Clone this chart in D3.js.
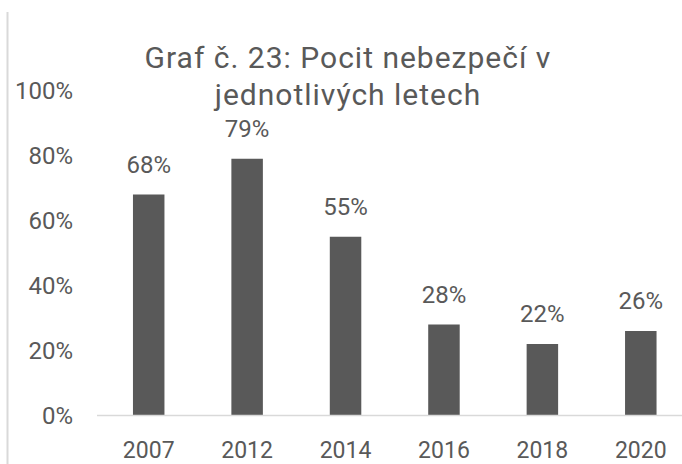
<!DOCTYPE html>
<html>
<head>
<meta charset="utf-8">
<script src="https://cdn.jsdelivr.net/npm/d3@7"></script>
<style>
  html, body { margin: 0; padding: 0; background: #ffffff; }
  svg { display: block; }
  text { font-family: Roboto, "Noto Sans", sans-serif; fill: #595959; }
</style>
</head>
<body>
<svg id="chart" width="682" height="464"></svg>
<script>
const titleLines = ["Graf č. 23: Pocit nebezpečí v", "jednotlivých letech"];
const categories = ["2007", "2012", "2014", "2016", "2018", "2020"];
const values = [0.68, 0.79, 0.55, 0.28, 0.22, 0.26];
const yTicks = [0, 0.2, 0.4, 0.6, 0.8, 1.0];

const svg = d3.select("#chart");
const W = 682, H = 464;

svg.append("rect").attr("width", W).attr("height", H).attr("fill", "#ffffff");

// chart frame left edge
svg.append("line")
  .attr("x1", 7.5).attr("x2", 7.5).attr("y1", 12).attr("y2", H)
  .attr("stroke", "#d9d9d9").attr("stroke-width", 2);

const x = d3.scaleBand().domain(categories).range([99.5, 690]).paddingInner(0.68).paddingOuter(0.34);
const y = d3.scaleLinear().domain([0, 1]).range([415.5, 90.5]);
const pct = d3.format(".0%");

// Title
const title = svg.append("text").attr("text-anchor", "middle")
  .style("font-size", "30px").style("letter-spacing", "1px");
titleLines.forEach((t, i) => {
  title.append("tspan").attr("x", 348).attr("y", i === 0 ? 68 : 105).text(t);
});

// Y axis (labels only)
const yAxis = d3.axisLeft(y).tickValues(yTicks).tickFormat(pct).tickSize(0).tickPadding(0);
const gy = svg.append("g").attr("transform", "translate(73,0)").call(yAxis);
gy.select(".domain").remove();
gy.selectAll("text").style("font-size", "24px").attr("fill", "#595959").attr("font-family", null);

// Bars
svg.append("g").selectAll("rect").data(values).join("rect")
  .attr("x", (d, i) => x(categories[i]))
  .attr("width", x.bandwidth())
  .attr("y", d => y(d))
  .attr("height", d => y(0) - y(d))
  .attr("fill", "#595959");

// X axis
const xAxis = d3.axisBottom(x).tickSize(0).tickPadding(0);
const gx = svg.append("g").attr("transform", `translate(0,${y(0)})`).call(xAxis);
gx.select(".domain").remove();
gx.selectAll("text").style("font-size", "23px").attr("fill", "#595959").attr("font-family", null)
  .attr("dy", null).attr("y", 458 - y(0));
svg.append("line")
  .attr("x1", 97).attr("x2", W).attr("y1", y(0)).attr("y2", y(0))
  .attr("stroke", "#d9d9d9").attr("stroke-width", 1.5);

// Data labels
svg.append("g").selectAll("text").data(values).join("text")
  .attr("x", (d, i) => x(categories[i]) + x.bandwidth() / 2)
  .attr("y", d => y(d) - 22)
  .attr("text-anchor", "middle")
  .style("font-size", "24px")
  .text(d => pct(d));
</script>
</body>
</html>
